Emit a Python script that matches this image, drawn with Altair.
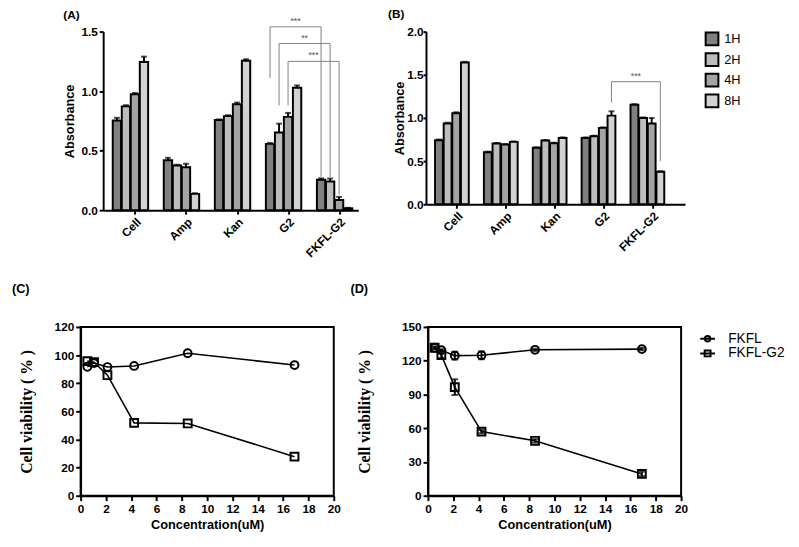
import json
import altair as alt
import pandas as pd

# ---------------- data ----------------
groups = ["Cell", "Amp", "Kan", "G2", "FKFL-G2"]
times = ["1H", "2H", "4H", "8H"]

# Panel A: absorbance (per group, values for 1H/2H/4H/8H)
a_cell = [0.754, 0.872, 0.973, 1.245]
a_amp = [0.420, 0.376, 0.360, 0.137]
a_kan = [0.757, 0.790, 0.889, 1.256]
a_g2 = [0.557, 0.653, 0.784, 1.028]
a_fkfl_g2 = [0.255, 0.241, 0.085, 0.016]
a_cell_err = [0.022, 0.010, 0.012, 0.045]
a_amp_err = [0.020, 0.006, 0.030, 0.006]
a_kan_err = [0.006, 0.008, 0.015, 0.012]
a_g2_err = [0.008, 0.074, 0.033, 0.020]
a_fkfl_g2_err = [0.012, 0.025, 0.027, 0.004]

# Panel B: absorbance
b_cell = [0.742, 0.935, 1.054, 1.642]
b_amp = [0.604, 0.704, 0.692, 0.723]
b_kan = [0.654, 0.738, 0.708, 0.769]
b_g2 = [0.769, 0.788, 0.885, 1.027]
b_fkfl_g2 = [1.154, 1.000, 0.935, 0.377]
b_cell_err = [0.008, 0.010, 0.012, 0.008]
b_amp_err = [0.006, 0.006, 0.006, 0.006]
b_kan_err = [0.006, 0.006, 0.006, 0.006]
b_g2_err = [0.006, 0.006, 0.006, 0.050]
b_fkfl_g2_err = [0.006, 0.006, 0.065, 0.006]

# significance brackets (G2 bar vs FKFL-G2 bar of the same time point)
a_sig_labels = ["***", "**", "***"]
a_sig_time = [0, 1, 2]
a_sig_top = [1.54, 1.40, 1.25]
a_sig_left_low = [1.11, 0.88, 0.88]
a_sig_right_low = [0.28, 0.28, 0.13]

b_sig_labels = ["***"]
b_sig_time = [3]
b_sig_top = [1.42]
b_sig_left_low = [1.18]
b_sig_right_low = [0.50]

# Panels C / D: cell viability (%)
series_names = ["FKFL", "FKFL-G2"]
conc = [0.53, 1.06, 2.12, 4.23, 8.46, 16.9]
c_fkfl = [91.7, 94.3, 91.5, 92.3, 101.3, 92.9]
c_fkfl_g2 = [95.7, 95.0, 85.7, 51.8, 51.4, 27.8]
d_fkfl = [131.5, 129.3, 124.5, 124.8, 129.7, 130.3]
d_fkfl_g2 = [131.5, 125.0, 96.5, 57.0, 48.8, 19.4]
d_fkfl_err = [1.0, 1.0, 3.5, 3.5, 1.0, 1.0]
d_fkfl_g2_err = [1.0, 2.5, 7.0, 1.5, 1.5, 2.0]

# ---------------- styles ----------------
FONT = "Liberation Sans"
SERIF = "Liberation Serif"
BAR_OFFSETS = [-0.265, -0.088, 0.088, 0.265]   # bar position inside a group
BAR_FILLS = ["#808080", "#bdbdbd", "#a4a4a4", "#d2d2d2"]
label_expr = json.dumps(groups) + "[round(datum.value)]"


def bar_frame(vals, errs):
    rows = []
    for gi, g in enumerate(groups):
        for si, t in enumerate(times):
            rows.append(dict(group=g, time=t, pos=gi + BAR_OFFSETS[si],
                             value=vals[gi][si], top=vals[gi][si] + errs[gi][si]))
    return pd.DataFrame(rows)


def bracket_frames(labels, tidx, top, left_low, right_low):
    segs, texts = [], []
    gi_left, gi_right = groups.index("G2"), groups.index("FKFL-G2")
    for lab, t, yt, yl, yr in zip(labels, tidx, top, left_low, right_low):
        xl = gi_left + BAR_OFFSETS[t]
        xr = gi_right + BAR_OFFSETS[t]
        segs.append(dict(x=xl, x2=xl, y=yl, y2=yt))
        segs.append(dict(x=xl, x2=xr, y=yt, y2=yt))
        segs.append(dict(x=xr, x2=xr, y=yt, y2=yr))
        texts.append(dict(xm=(xl + xr) / 2, top=yt, label=lab))
    return pd.DataFrame(segs), pd.DataFrame(texts)


def bar_panel(df, segs, texts, xdom, ydom, yvals, width, height, title, tick_shift,
              legend, ytitle_pad, title_pos, bar_w, label_pad, tick_size):
    x = alt.X("pos:Q", scale=alt.Scale(domain=xdom, nice=False, zero=False),
              axis=alt.Axis(values=[i + tick_shift for i in range(len(groups))],
                            labelExpr=label_expr, labelAngle=-45, labelAlign="right",
                            labelBaseline="top", labelOverlap=False, labelFlush=False,
                            labelPadding=2, title=None))
    y = alt.Y("value:Q", scale=alt.Scale(domain=ydom, nice=False),
              axis=alt.Axis(values=yvals, format=".1f", title="Absorbance",
                            titlePadding=ytitle_pad, labelPadding=label_pad, tickSize=tick_size,
                            labelOverlap=False))
    base = alt.Chart(df)
    bars = base.mark_bar(orient="vertical", size=bar_w, stroke="black", strokeWidth=2).encode(
        x=x, y=y,
        fill=alt.Fill("time:N", scale=alt.Scale(domain=times, range=BAR_FILLS), legend=legend))
    err = base.mark_rule(color="black", strokeWidth=2).encode(x="pos:Q", y="value:Q", y2="top:Q")
    cap = base.mark_tick(orient="horizontal", size=6, thickness=2, color="black").encode(
        x="pos:Q", y="top:Q")
    br = alt.Chart(segs).mark_rule(color="#808080", strokeWidth=1).encode(
        x="x:Q", x2="x2:Q", y="y:Q", y2="y2:Q")
    tx = alt.Chart(texts).mark_text(fontSize=9, color="#555555", baseline="middle", dy=-6,
                                     font=FONT).encode(x="xm:Q", y="top:Q", text="label:N")
    return alt.layer(bars, err, cap, br, tx).properties(
        width=width, height=height,
        title=alt.TitleParams(title, anchor="start", font=FONT, fontSize=12, fontWeight="bold",
                              color="black", dx=title_pos[0], offset=title_pos[1]))


a_df = bar_frame([a_cell, a_amp, a_kan, a_g2, a_fkfl_g2],
                 [a_cell_err, a_amp_err, a_kan_err, a_g2_err, a_fkfl_g2_err])
b_df = bar_frame([b_cell, b_amp, b_kan, b_g2, b_fkfl_g2],
                 [b_cell_err, b_amp_err, b_kan_err, b_g2_err, b_fkfl_g2_err])
a_segs, a_texts = bracket_frames(a_sig_labels, a_sig_time, a_sig_top, a_sig_left_low, a_sig_right_low)
b_segs, b_texts = bracket_frames(b_sig_labels, b_sig_time, b_sig_top, b_sig_left_low, b_sig_right_low)

legend_b = alt.Legend(title=" ", titleOrient="right", titlePadding=28, orient="right", offset=20,
                      padding=0, symbolType="square",
                      symbolSize=169, symbolStrokeColor="black", symbolStrokeWidth=2,
                      labelFont=FONT, labelFontSize=13, labelFontWeight="normal",
                      labelColor="black", rowPadding=0, labelOffset=5)

panel_a = bar_panel(a_df, a_segs, a_texts, [-0.438, 4.368], [0, 1.5], [0, 0.5, 1.0, 1.5],
                    260, 182, "(A)", 0.09, None, 5, (0, -5), 8.5, 2, 4)
panel_b = bar_panel(b_df, b_segs, b_texts, [-0.43, 4.67], [0, 2.0], [0, 0.5, 1.0, 1.5, 2.0],
                    264, 176, "(B)", 0.10, legend_b, 0, (-6, 5), 8, 0, 3)


def viab_frame(v1, v2, e1=None, e2=None):
    rows = []
    for name, vals, errs in [(series_names[0], v1, e1), (series_names[1], v2, e2)]:
        for i, c in enumerate(conc):
            e = errs[i] if errs else 0.0
            rows.append(dict(series=name, conc=c, v=vals[i], lo=vals[i] - e, hi=vals[i] + e))
    return pd.DataFrame(rows)


CIRCLE_PATH = "M-1.5,0H1.5M0.55,0A0.55,0.55,0,1,1,-0.55,0A0.55,0.55,0,1,1,0.55,0"
SQUARE_PATH = "M-1.5,0H1.5M-0.6,-0.6H0.6V0.6H-0.6Z"


def viab_panel(df, ymax, ystep, title, title_dx, with_err, legend, ytitle_pad):
    xaxis = alt.Axis(values=list(range(0, 21, 2)), title="Concentration(uM)",
                     titleFontSize=13, titlePadding=4, labelPadding=3, tickSize=5,
                     labelFlush=False, labelOverlap=False)
    yaxis = alt.Axis(values=list(range(0, ymax + 1, ystep)), title="Cell viability ( % )",
                     titleFont=SERIF, titleFontSize=16, titlePadding=ytitle_pad,
                     labelPadding=2, tickSize=5, labelOverlap=False)
    x = alt.X("conc:Q", scale=alt.Scale(domain=[0, 20], nice=False), axis=xaxis)
    y = alt.Y("v:Q", scale=alt.Scale(domain=[0, ymax], nice=False), axis=yaxis)
    base = alt.Chart(df)
    line = base.mark_line(color="black", strokeWidth=1.6).encode(x=x, y=y, detail="series:N")
    pts = base.mark_point(filled=False, color="black", strokeWidth=2, size=64, opacity=1).encode(
        x=x, y=y,
        shape=alt.Shape("series:N", scale=alt.Scale(domain=series_names, range=["circle", "square"]),
                        legend=None))
    layers = [line]
    if with_err:
        layers.append(base.mark_rule(color="black", strokeWidth=2).encode(
            x=x, y=alt.Y("lo:Q", axis=yaxis), y2="hi:Q"))
        layers.append(base.mark_tick(orient="horizontal", size=7, thickness=2, color="black").encode(
            x=x, y=alt.Y("hi:Q", axis=yaxis)))
        layers.append(base.mark_tick(orient="horizontal", size=7, thickness=2, color="black").encode(
            x=x, y=alt.Y("lo:Q", axis=yaxis)))
    layers.append(pts)
    resolve_shape = False
    if legend:
        leg = base.transform_filter("false").mark_point(
            filled=False, color="black", strokeWidth=2, size=144).encode(
            x=x, y=y,
            shape=alt.Shape("series:N",
                            scale=alt.Scale(domain=series_names, range=[CIRCLE_PATH, SQUARE_PATH]),
                            legend=alt.Legend(title=None, orient="right", offset=15, padding=5,
                                              symbolStrokeColor="black", symbolStrokeWidth=2,
                                              symbolFillColor="transparent", symbolOpacity=1,
                                              labelFont=FONT, labelFontSize=14,
                                              labelFontWeight="normal", labelColor="black",
                                              labelOffset=14, rowPadding=1)))
        layers.append(leg)
        resolve_shape = True
    ch = alt.layer(*layers)
    if resolve_shape:
        ch = ch.resolve_scale(shape="independent")
    return ch.properties(
        width=258, height=172,
        view=alt.ViewBackground(stroke="black", strokeWidth=2),
        title=alt.TitleParams(title, anchor="start", font=FONT, fontSize=13, fontWeight="bold",
                              color="black", dx=title_dx, offset=26))


panel_c = viab_panel(viab_frame(c_fkfl, c_fkfl_g2), 120, 20, "(C)", -7, False, False, 20)
panel_d = viab_panel(viab_frame(d_fkfl, d_fkfl_g2, d_fkfl_err, d_fkfl_g2_err), 150, 30, "(D)",
                     -6, True, True, 30)

row1 = alt.hconcat(panel_a, panel_b, spacing=30).resolve_scale(fill="independent").resolve_legend(
    fill="independent")
row2 = alt.hconcat(panel_c, panel_d, spacing=7)

chart = alt.vconcat(row1, row2, spacing=23, center=True).properties(
    padding={"left": 2, "top": -5, "right": 0, "bottom": 0}
).configure_view(stroke=None).configure_axis(
    labelFont=FONT, labelFontWeight="bold", labelFontSize=12, labelColor="black",
    titleFont=FONT, titleFontWeight="bold", titleFontSize=13, titleColor="black",
    domainColor="black", domainWidth=2, tickColor="black", tickWidth=2, tickSize=4,
    grid=False, labelOverlap=False
)

chart.save("out.html", embed_options={"renderer": "svg", "actions": False})
